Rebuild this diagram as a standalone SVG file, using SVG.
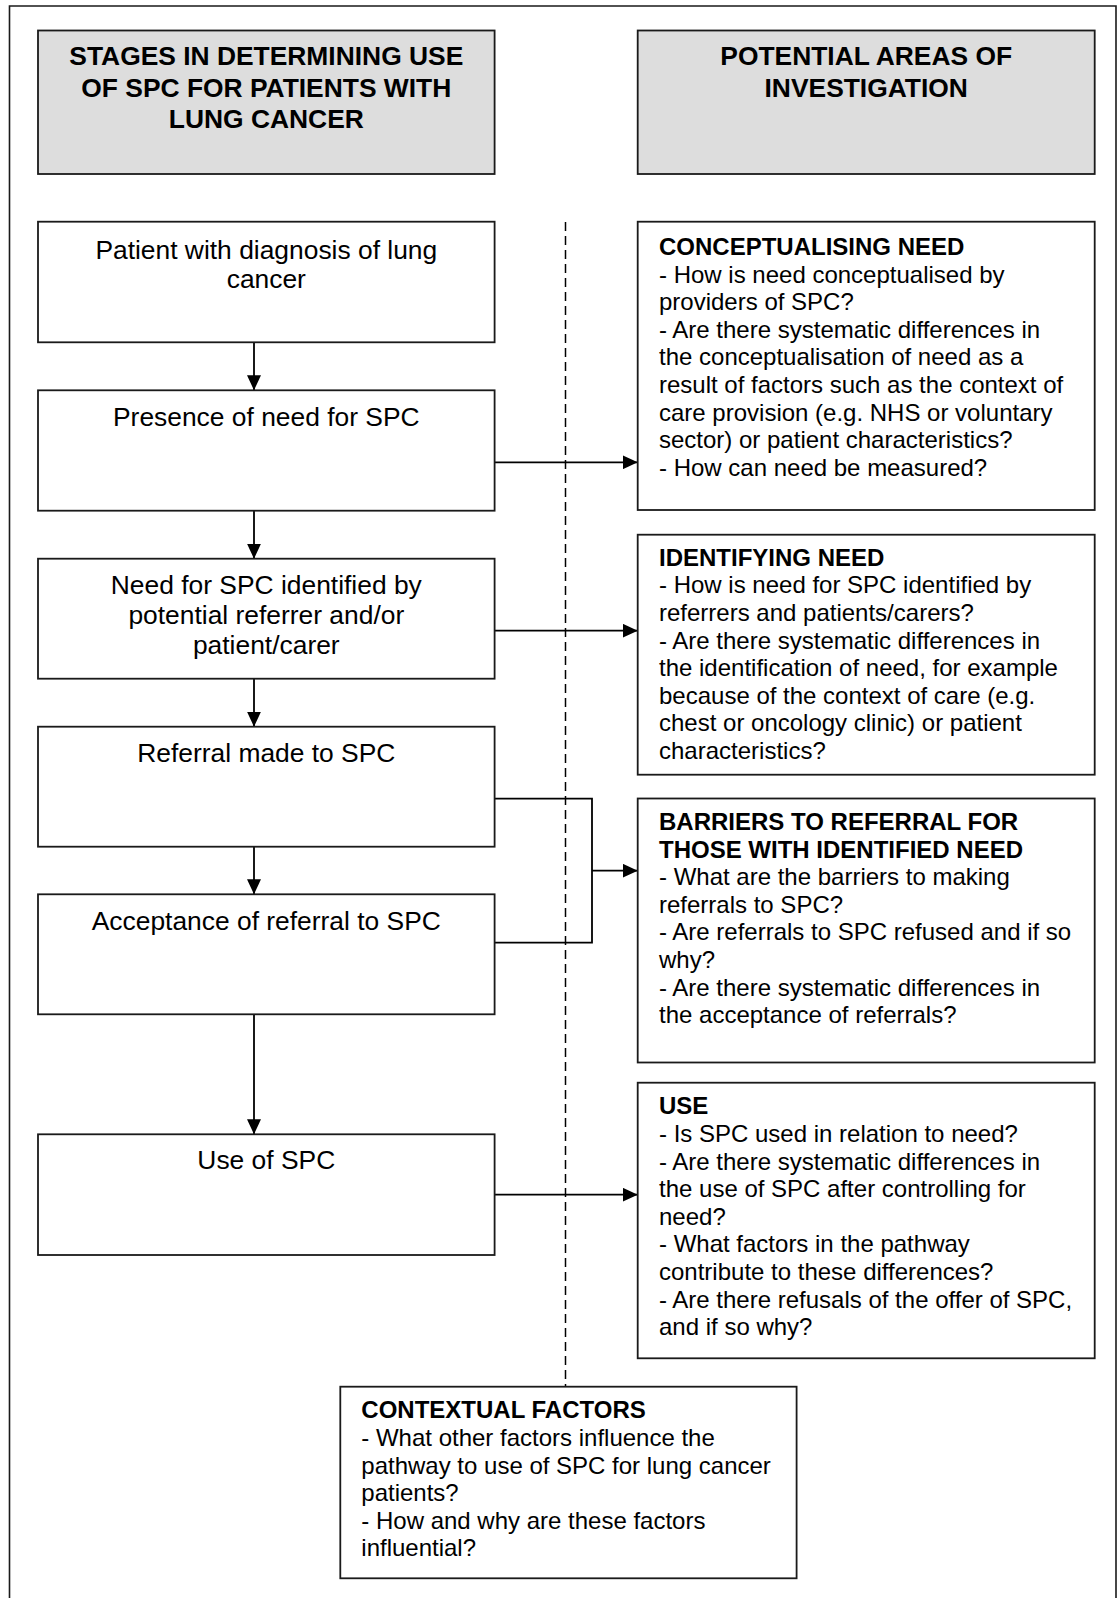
<svg xmlns="http://www.w3.org/2000/svg" width="1119" height="1598" viewBox="0 0 1119 1598">
<style>
  .box { fill: #ffffff; stroke: #1a1a1a; stroke-width: 1.8; }
  .hdr { fill: #dddddd; stroke: #1a1a1a; stroke-width: 1.8; }
  .title { font-family: "Liberation Sans", Arial, sans-serif; font-size: 26.4px; font-weight: bold; fill: #000; text-anchor: middle; }
  .stage { font-family: "Liberation Sans", Arial, sans-serif; font-size: 26.4px; fill: #000; text-anchor: middle; }
  .body { font-family: "Liberation Sans", Arial, sans-serif; font-size: 24px; fill: #000; }
  .body .b { font-weight: bold; }
  .conn { fill: none; stroke: #000; stroke-width: 1.8; }
  .dash { fill: none; stroke: #000; stroke-width: 1.5; stroke-dasharray: 9 5; }
</style>
<defs>
  <marker id="arr" markerWidth="15" markerHeight="14" refX="15" refY="7" orient="auto" markerUnits="userSpaceOnUse">
    <path d="M0,0 L15,7 L0,14 Z" fill="#000"/>
  </marker>
</defs>
<rect x="0" y="0" width="1119" height="1598" fill="#ffffff"/>
<path d="M9.5,1600 V6 H1116 V1600" fill="none" stroke="#1a1a1a" stroke-width="1.6"/>

<g id="header-left">
  <rect class="hdr" x="38" y="30.5" width="456.6" height="143.5"/>
  <text class="title" x="266.3" y="65">STAGES IN DETERMINING USE</text>
  <text class="title" x="266.3" y="96.5">OF SPC FOR PATIENTS WITH</text>
  <text class="title" x="266.3" y="128">LUNG CANCER</text>
</g>
<g id="header-right">
  <rect class="hdr" x="637.7" y="30.5" width="457" height="143.5"/>
  <text class="title" x="866.2" y="65">POTENTIAL AREAS OF</text>
  <text class="title" x="866.2" y="97">INVESTIGATION</text>
</g>

<g id="connectors">
  <line class="dash" x1="565.5" y1="222" x2="565.5" y2="1386.7"/>
  <line class="conn" x1="254" y1="342.3" x2="254" y2="390.3" marker-end="url(#arr)"/>
  <line class="conn" x1="254" y1="510.7" x2="254" y2="558.7" marker-end="url(#arr)"/>
  <line class="conn" x1="254" y1="678.7" x2="254" y2="726.7" marker-end="url(#arr)"/>
  <line class="conn" x1="254" y1="846.7" x2="254" y2="894.3" marker-end="url(#arr)"/>
  <line class="conn" x1="254" y1="1014.3" x2="254" y2="1134.3" marker-end="url(#arr)"/>
  <line class="conn" x1="494.6" y1="462.3" x2="637.7" y2="462.3" marker-end="url(#arr)"/>
  <line class="conn" x1="494.6" y1="630.7" x2="637.7" y2="630.7" marker-end="url(#arr)"/>
  <path class="conn" d="M494.6,798.7 H592 V942.7 H494.6"/>
  <line class="conn" x1="592" y1="870.7" x2="637.7" y2="870.7" marker-end="url(#arr)"/>
  <line class="conn" x1="494.6" y1="1194.7" x2="637.7" y2="1194.7" marker-end="url(#arr)"/>
</g>

<g id="stage-diagnosis">
  <rect class="box" x="38" y="221.7" width="456.6" height="120.6"/>
  <text class="stage" x="266.3" y="258.5">Patient with diagnosis of lung</text>
  <text class="stage" x="266.3" y="288">cancer</text>
</g>
<g id="stage-need">
  <rect class="box" x="38" y="390.3" width="456.6" height="120.4"/>
  <text class="stage" x="266.3" y="426">Presence of need for SPC</text>
</g>
<g id="stage-identified">
  <rect class="box" x="38" y="558.7" width="456.6" height="120"/>
  <text class="stage" x="266.3" y="593.5">Need for SPC identified by</text>
  <text class="stage" x="266.3" y="623.5">potential referrer and/or</text>
  <text class="stage" x="266.3" y="653.5">patient/carer</text>
</g>
<g id="stage-referral">
  <rect class="box" x="38" y="726.7" width="456.6" height="120"/>
  <text class="stage" x="266.3" y="761.7">Referral made to SPC</text>
</g>
<g id="stage-acceptance">
  <rect class="box" x="38" y="894.3" width="456.6" height="120"/>
  <text class="stage" x="266.3" y="930">Acceptance of referral to SPC</text>
</g>
<g id="stage-use">
  <rect class="box" x="38" y="1134.3" width="456.6" height="120.7"/>
  <text class="stage" x="266.3" y="1169.3">Use of SPC</text>
</g>

<g id="area-conceptualising">
  <rect class="box" x="637.7" y="221.7" width="457" height="288.3"/>
  <text class="body" x="659" y="255">
    <tspan class="b" x="659" y="255">CONCEPTUALISING NEED</tspan>
    <tspan x="659" y="282.6">- How is need conceptualised by</tspan>
    <tspan x="659" y="310.2">providers of SPC?</tspan>
    <tspan x="659" y="337.8">- Are there systematic differences in</tspan>
    <tspan x="659" y="365.4">the conceptualisation of need as a</tspan>
    <tspan x="659" y="393">result of factors such as the context of</tspan>
    <tspan x="659" y="420.6">care provision (e.g. NHS or voluntary</tspan>
    <tspan x="659" y="448.2">sector) or patient characteristics?</tspan>
    <tspan x="659" y="475.8">- How can need be measured?</tspan>
  </text>
</g>
<g id="area-identifying">
  <rect class="box" x="637.7" y="534.7" width="457" height="240"/>
  <text class="body" x="659" y="565.7">
    <tspan class="b" x="659" y="565.7">IDENTIFYING NEED</tspan>
    <tspan x="659" y="593.3">- How is need for SPC identified by</tspan>
    <tspan x="659" y="620.9">referrers and patients/carers?</tspan>
    <tspan x="659" y="648.5">- Are there systematic differences in</tspan>
    <tspan x="659" y="676.1">the identification of need, for example</tspan>
    <tspan x="659" y="703.7">because of the context of care (e.g.</tspan>
    <tspan x="659" y="731.3">chest or oncology clinic) or patient</tspan>
    <tspan x="659" y="758.9">characteristics?</tspan>
  </text>
</g>
<g id="area-barriers">
  <rect class="box" x="637.7" y="798.5" width="457" height="264"/>
  <text class="body" x="659" y="830">
    <tspan class="b" x="659" y="830">BARRIERS TO REFERRAL FOR</tspan>
    <tspan class="b" x="659" y="857.6">THOSE WITH IDENTIFIED NEED</tspan>
    <tspan x="659" y="885.2">- What are the barriers to making</tspan>
    <tspan x="659" y="912.8">referrals to SPC?</tspan>
    <tspan x="659" y="940.4">- Are referrals to SPC refused and if so</tspan>
    <tspan x="659" y="968">why?</tspan>
    <tspan x="659" y="995.6">- Are there systematic differences in</tspan>
    <tspan x="659" y="1023.2">the acceptance of referrals?</tspan>
  </text>
</g>
<g id="area-use">
  <rect class="box" x="637.7" y="1082.7" width="457" height="275.6"/>
  <text class="body" x="659" y="1114.3">
    <tspan class="b" x="659" y="1114.3">USE</tspan>
    <tspan x="659" y="1141.9">- Is SPC used in relation to need?</tspan>
    <tspan x="659" y="1169.5">- Are there systematic differences in</tspan>
    <tspan x="659" y="1197.1">the use of SPC after controlling for</tspan>
    <tspan x="659" y="1224.7">need?</tspan>
    <tspan x="659" y="1252.3">- What factors in the pathway</tspan>
    <tspan x="659" y="1279.9">contribute to these differences?</tspan>
    <tspan x="659" y="1307.5">- Are there refusals of the offer of SPC,</tspan>
    <tspan x="659" y="1335.1">and if so why?</tspan>
  </text>
</g>
<g id="contextual-factors">
  <rect class="box" x="340.3" y="1386.7" width="456.3" height="191.6"/>
  <text class="body" x="361.3" y="1418.3">
    <tspan class="b" x="361.3" y="1418.3">CONTEXTUAL FACTORS</tspan>
    <tspan x="361.3" y="1445.9">- What other factors influence the</tspan>
    <tspan x="361.3" y="1473.5">pathway to use of SPC for lung cancer</tspan>
    <tspan x="361.3" y="1501.1">patients?</tspan>
    <tspan x="361.3" y="1528.7">- How and why are these factors</tspan>
    <tspan x="361.3" y="1556.3">influential?</tspan>
  </text>
</g>
</svg>
